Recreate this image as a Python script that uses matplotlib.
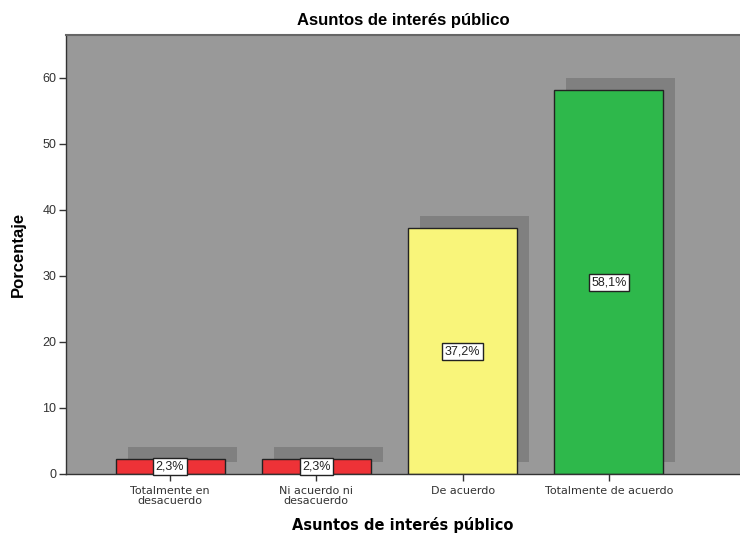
import matplotlib
matplotlib.use("Agg")
import matplotlib.pyplot as plt
from matplotlib.transforms import ScaledTranslation

categories = ["Totalmente en\ndesacuerdo", "Ni acuerdo ni\ndesacuerdo", "De acuerdo", "Totalmente de acuerdo"]
values = [2.3, 2.3, 37.2, 58.1]
labels = ["2,3%", "2,3%", "37,2%", "58,1%"]
colors = ["#ee3237", "#ee3237", "#f9f57a", "#2eb84b"]

fig = plt.figure(figsize=(7.4, 5.35), dpi=100)
ax = fig.add_axes([66/740, 1-474/535, 1-66/740, (474-35)/535])
ax.set_facecolor("#999999")

x = list(range(len(categories)))
width = 0.745

shadow_tr = ax.transData + ScaledTranslation(12/100, 12/100, fig.dpi_scale_trans)
for xi, v in zip(x, values):
    ax.bar(xi, v, width=width, color="#808080", edgecolor="none", transform=shadow_tr, zorder=1)

bars = ax.bar(x, values, width=width, color=colors, edgecolor="#222222", linewidth=1.0, zorder=2)

for xi, v, lab in zip(x, values, labels):
    ax.text(xi, v/2, lab, ha="center", va="center", fontsize=9, family="Liberation Sans",
            color="#222222", zorder=3,
            bbox=dict(boxstyle="square,pad=0.2", facecolor="white", edgecolor="#222222", linewidth=1.0))

ax.set_xlim(-0.711, 3.896)
ax.set_ylim(0, 66.5)
ax.set_yticks([0, 10, 20, 30, 40, 50, 60])
ax.set_yticklabels(["0", "10", "20", "30", "40", "50", "60"], fontsize=9, family="Liberation Sans", color="#333333")
ax.set_xticks(x)
ax.set_xticklabels(categories, fontsize=8, family="DejaVu Sans", color="#333333", linespacing=0.95)
ax.tick_params(axis="both", direction="out", length=5, width=1, color="#333333", pad=2)
ax.tick_params(axis="x", pad=4)

for side in ["left", "bottom"]:
    ax.spines[side].set_color("#333333")
    ax.spines[side].set_linewidth(1.0)
ax.spines["top"].set_color("#666666")
ax.spines["top"].set_linewidth(1.5)
ax.spines["right"].set_visible(False)

ax.set_title("Asuntos de interés público", fontsize=12, fontweight="bold", family="Liberation Sans", pad=7)
ax.set_ylabel("Porcentaje", fontsize=12, fontweight="bold", family="Liberation Sans", labelpad=12)
ax.set_xlabel("Asuntos de interés público", fontsize=10.5, fontweight="bold", family="DejaVu Sans", labelpad=8)

fig.savefig("out.png", dpi=100)
